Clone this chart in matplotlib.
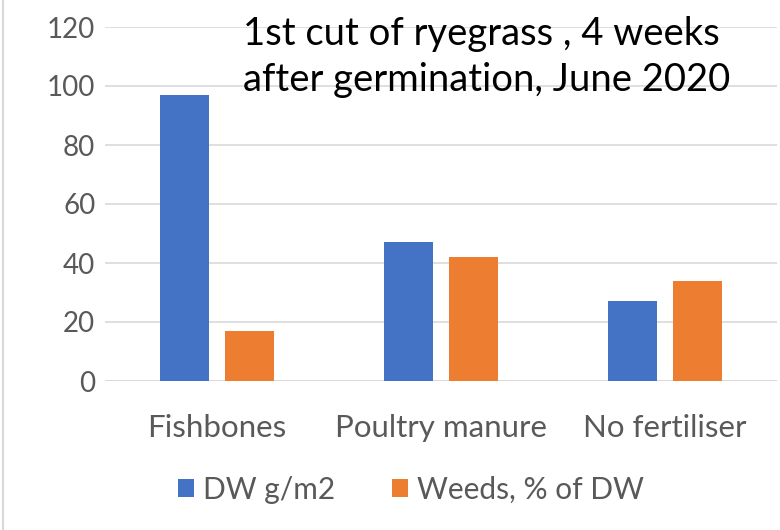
import matplotlib.pyplot as plt
import numpy as np

plt.rcParams['font.family'] = ['Lato', 'DejaVu Sans']

categories = ['Fishbones', 'Poultry manure', 'No fertiliser']
dw = [97, 47, 27]
weeds = [17, 42, 34]
series_names = ['DW g/m2', 'Weeds, % of DW']
yticks = [0, 20, 40, 60, 80, 100, 120]

fig = plt.figure(figsize=(7.8, 5.3), dpi=100)
ax = fig.add_axes([105 / 780, 1 - 381 / 530, 672 / 780, 354 / 530])

x = np.arange(len(categories))
w = 0.22
ax.bar(x - 0.145, dw, w, color='#4472C4', label=series_names[0], zorder=3)
ax.bar(x + 0.145, weeds, w, color='#ED7D31', label=series_names[1], zorder=3)

ax.set_xlim(-0.5, 2.5)
ax.set_ylim(0, 120)
ax.set_yticks(yticks)
ax.set_xticks(x)
ax.set_xticklabels(categories)
ax.yaxis.grid(True, color='#D9D9D9', linewidth=1.2, zorder=0)
for s in ax.spines.values():
    s.set_visible(False)
ax.axhline(0, color='#D9D9D9', linewidth=1.2, zorder=1)
ax.tick_params(length=0, colors='#595959')
ax.tick_params(axis='y', labelsize=20, pad=7)
ax.tick_params(axis='x', labelsize=22.5, pad=24)

fig.text(243 / 780, 1 - 16 / 530,
         '1st cut of ryegrass , 4 weeks\nafter germination, June 2020',
         fontsize=27.5, color='black', ha='left', va='top', linespacing=1.35)

leg = fig.legend(loc='center', bbox_to_anchor=(411 / 780, 1 - 490 / 530),
                 ncol=2, frameon=False, fontsize=21.5, handlelength=0.55,
                 handleheight=0.55, handletextpad=0.3, columnspacing=1.9)
for t in leg.get_texts():
    t.set_color('#595959')

# left border of the screenshot
fig.add_artist(plt.Line2D([3 / 780, 3 / 780], [0, 1], color='#D9D9D9', linewidth=1.5))

fig.savefig('out.png', dpi=100)
